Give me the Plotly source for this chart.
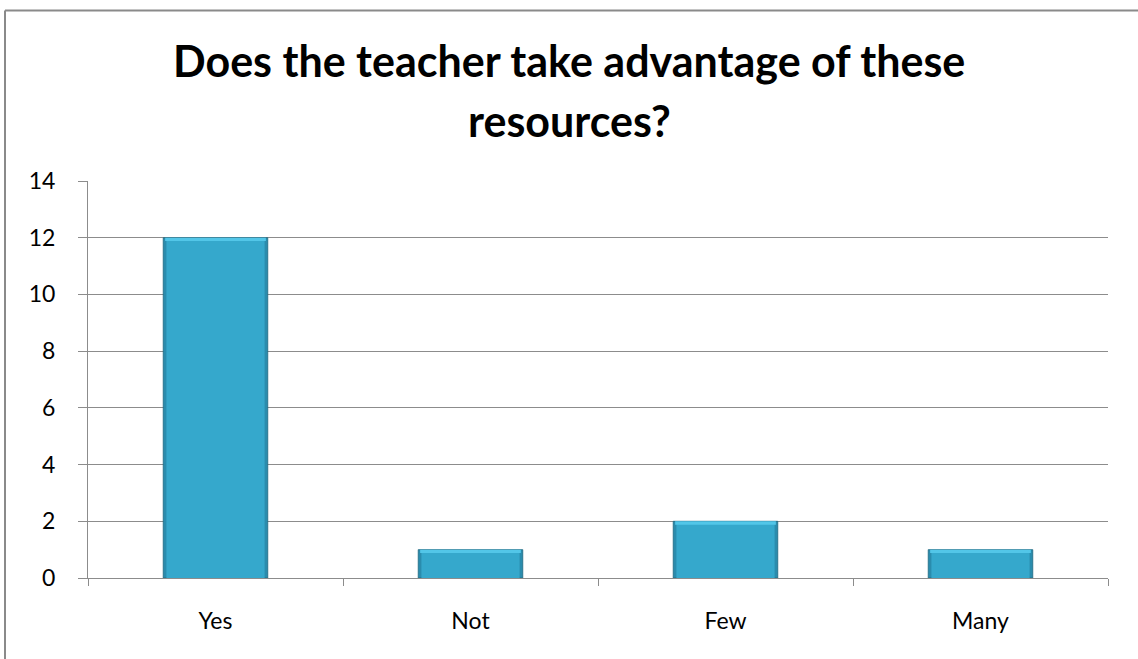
import plotly.graph_objects as go

categories = ["Yes", "Not", "Few", "Many"]
counts = [12, 1, 2, 1]
y_ticks = [0, 2, 4, 6, 8, 10, 12, 14]
title_lines = ["Does the teacher take advantage of these", "resources?"]

W, H = 1138, 659
L, R, T, B = 88, 30, 181, 81

fig = go.Figure()

# outer bar body (darker edges)
fig.add_trace(go.Bar(
    x=categories, y=counts, width=0.41,
    marker=dict(color="#2a8cad", line=dict(color="#1e6a82", width=0.8)),
    hoverinfo="skip", showlegend=False,
))
# inner lighter face of the bar
fig.add_trace(go.Bar(
    x=categories, y=[c - 0.1 for c in counts], width=0.385,
    marker=dict(color="#35a8cc", line=dict(width=0)),
    hoverinfo="skip", showlegend=False,
))
# light bevel along the top edge
fig.add_trace(go.Bar(
    x=categories, y=[0.12] * len(counts), base=[c - 0.12 for c in counts],
    width=0.395,
    marker=dict(color="#52c6e8", line=dict(width=0)),
    hoverinfo="skip", showlegend=False,
))

fig.update_layout(
    width=W, height=H,
    margin=dict(l=L, r=R, t=T, b=B),
    paper_bgcolor="white", plot_bgcolor="white",
    barmode="overlay",
    font=dict(family="Lato", size=23, color="#000000"),
    xaxis=dict(
        type="category", showgrid=False,
        showline=True, linecolor="#8c8c8c", linewidth=1,
        ticks="outside", tickson="boundaries", ticklen=7, tickcolor="#8c8c8c",
        tickfont=dict(family="Lato", size=23),
        ticklabelstandoff=22,
        fixedrange=True,
    ),
    yaxis=dict(
        range=[0, 14], tickvals=y_ticks,
        showgrid=True, gridcolor="#8c8c8c", gridwidth=1,
        showline=True, linecolor="#8c8c8c", linewidth=1,
        ticks="outside", ticklen=9, tickcolor="#8c8c8c",
        tickfont=dict(family="Lato", size=23),
        ticklabelstandoff=18,
        zeroline=False, fixedrange=True,
    ),
)

# chart title (two lines, centered on the figure)
cx = (W / 2 - L) / (W - L - R)
fig.add_annotation(text="<b>%s</b>" % title_lines[0], xref="paper", yref="paper",
                   x=cx, y=1, xanchor="center", yanchor="bottom", yshift=93,
                   showarrow=False, font=dict(family="Lato", size=43, color="#000"))
fig.add_annotation(text="<b>%s</b>" % title_lines[1], xref="paper", yref="paper",
                   x=cx, y=1, xanchor="center", yanchor="bottom", yshift=33,
                   showarrow=False, font=dict(family="Lato", size=43, color="#000"))

# chart frame: top and left edges
fig.add_shape(type="line", xref="paper", yref="paper",
              xsizemode="pixel", ysizemode="pixel", xanchor=0, yanchor=1,
              x0=-83, x1=W, y0=T - 10.5, y1=T - 10.5,
              line=dict(color="#8a8a8a", width=2))
fig.add_shape(type="line", xref="paper", yref="paper",
              xsizemode="pixel", ysizemode="pixel", xanchor=0, yanchor=1,
              x0=-83, x1=-83, y0=T - 10.5, y1=-(H - T) - 10,
              line=dict(color="#8a8a8a", width=2))

fig.write_html("out.html")
